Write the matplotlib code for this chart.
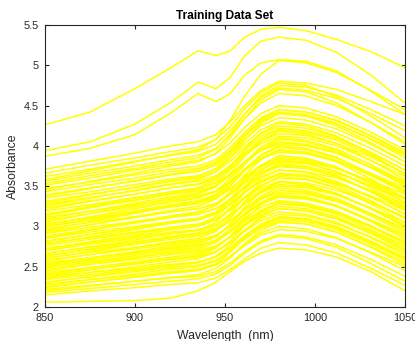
import matplotlib
matplotlib.use("Agg")
import matplotlib.pyplot as plt
from matplotlib.ticker import FormatStrFormatter

wavelengths = [850, 875, 900, 920, 935, 945, 953, 961, 970, 980, 995, 1012, 1031, 1050]

high_curves = [
    [4.26, 4.42, 4.71, 4.97, 5.18, 5.12, 5.18, 5.35, 5.45, 5.47, 5.43, 5.32, 5.17, 4.97],
    [3.94, 4.05, 4.27, 4.54, 4.79, 4.71, 4.85, 5.12, 5.30, 5.35, 5.31, 5.16, 4.88, 4.53],
    [3.87, 3.97, 4.14, 4.41, 4.65, 4.55, 4.65, 4.88, 5.03, 5.07, 5.05, 4.93, 4.68, 4.39],
    [3.58, 3.69, 3.80, 3.89, 3.95, 4.08, 4.32, 4.62, 4.89, 5.06, 5.03, 4.91, 4.69, 4.45],
]

upper_curves = [
    [3.31, 3.40, 3.48, 3.56, 3.60, 3.68, 3.81, 3.99, 4.15, 4.25, 4.22, 4.11, 3.92, 3.70],
    [3.35, 3.43, 3.52, 3.59, 3.63, 3.71, 3.85, 4.03, 4.20, 4.30, 4.27, 4.16, 3.97, 3.75],
    [3.39, 3.48, 3.56, 3.64, 3.68, 3.76, 3.90, 4.08, 4.25, 4.35, 4.32, 4.21, 4.02, 3.80],
    [3.43, 3.52, 3.60, 3.68, 3.72, 3.80, 3.95, 4.14, 4.32, 4.42, 4.39, 4.28, 4.08, 3.85],
    [3.47, 3.55, 3.64, 3.71, 3.75, 3.83, 3.98, 4.17, 4.35, 4.45, 4.42, 4.31, 4.12, 3.90],
    [3.51, 3.60, 3.70, 3.77, 3.82, 3.90, 4.04, 4.23, 4.40, 4.50, 4.47, 4.36, 4.17, 3.95],
    [3.56, 3.66, 3.75, 3.83, 3.88, 3.97, 4.13, 4.34, 4.53, 4.65, 4.62, 4.50, 4.29, 4.05],
    [3.62, 3.71, 3.81, 3.88, 3.93, 4.02, 4.19, 4.40, 4.60, 4.72, 4.69, 4.59, 4.40, 4.19],
    [3.66, 3.76, 3.85, 3.93, 3.98, 4.08, 4.24, 4.46, 4.66, 4.78, 4.75, 4.61, 4.37, 4.10],
    [3.71, 3.81, 3.91, 4.00, 4.05, 4.14, 4.30, 4.50, 4.69, 4.80, 4.78, 4.70, 4.55, 4.39],
    [3.45, 3.56, 3.66, 3.75, 3.80, 3.91, 4.10, 4.34, 4.57, 4.70, 4.67, 4.53, 4.29, 4.02],
    [3.53, 3.63, 3.72, 3.80, 3.85, 3.96, 4.15, 4.39, 4.62, 4.75, 4.73, 4.63, 4.45, 4.25],
    [3.25, 3.35, 3.45, 3.53, 3.58, 3.68, 3.85, 4.07, 4.28, 4.40, 4.37, 4.25, 4.04, 3.80],
    [3.15, 3.25, 3.35, 3.43, 3.48, 3.58, 3.74, 3.96, 4.16, 4.28, 4.25, 4.12, 3.90, 3.64],
    [3.29, 3.39, 3.49, 3.57, 3.62, 3.72, 3.89, 4.12, 4.33, 4.45, 4.42, 4.32, 4.13, 3.92],
    [3.37, 3.47, 3.57, 3.65, 3.70, 3.78, 3.93, 4.12, 4.30, 4.40, 4.37, 4.27, 4.09, 3.88],
]

mid_curves = [
    [2.76, 2.84, 2.92, 2.98, 3.02, 3.09, 3.21, 3.37, 3.51, 3.60, 3.58, 3.48, 3.30, 3.10],
    [2.79, 2.86, 2.93, 2.99, 3.03, 3.09, 3.20, 3.35, 3.48, 3.56, 3.54, 3.45, 3.30, 3.12],
    [2.82, 2.90, 2.98, 3.04, 3.08, 3.15, 3.27, 3.43, 3.57, 3.66, 3.64, 3.54, 3.36, 3.16],
    [2.85, 2.93, 3.00, 3.06, 3.10, 3.16, 3.28, 3.42, 3.56, 3.64, 3.62, 3.53, 3.38, 3.20],
    [2.88, 2.96, 3.04, 3.11, 3.15, 3.22, 3.34, 3.50, 3.65, 3.74, 3.72, 3.62, 3.44, 3.24],
    [2.91, 2.99, 3.06, 3.12, 3.16, 3.22, 3.34, 3.48, 3.62, 3.70, 3.68, 3.60, 3.45, 3.28],
    [2.94, 3.02, 3.11, 3.18, 3.22, 3.29, 3.41, 3.57, 3.71, 3.80, 3.78, 3.68, 3.50, 3.30],
    [2.97, 3.05, 3.12, 3.18, 3.22, 3.28, 3.40, 3.54, 3.68, 3.76, 3.74, 3.66, 3.51, 3.34],
    [3.00, 3.08, 3.17, 3.24, 3.28, 3.35, 3.46, 3.62, 3.76, 3.84, 3.82, 3.72, 3.55, 3.36],
    [3.03, 3.11, 3.19, 3.26, 3.30, 3.36, 3.47, 3.61, 3.74, 3.82, 3.80, 3.72, 3.57, 3.40],
    [3.07, 3.16, 3.24, 3.32, 3.36, 3.43, 3.55, 3.71, 3.85, 3.94, 3.92, 3.82, 3.64, 3.44],
    [3.11, 3.19, 3.27, 3.34, 3.38, 3.44, 3.56, 3.70, 3.84, 3.92, 3.90, 3.81, 3.66, 3.48],
    [3.15, 3.24, 3.32, 3.40, 3.44, 3.51, 3.64, 3.80, 3.95, 4.04, 4.01, 3.91, 3.73, 3.52],
    [3.19, 3.27, 3.36, 3.43, 3.47, 3.54, 3.65, 3.80, 3.94, 4.02, 4.00, 3.91, 3.74, 3.56],
    [3.23, 3.32, 3.40, 3.48, 3.52, 3.59, 3.72, 3.88, 4.03, 4.12, 4.10, 4.00, 3.82, 3.62],
    [3.27, 3.36, 3.44, 3.52, 3.56, 3.63, 3.75, 3.91, 4.06, 4.15, 4.13, 4.03, 3.86, 3.66],
    [2.85, 2.95, 3.05, 3.13, 3.18, 3.27, 3.43, 3.64, 3.83, 3.95, 3.92, 3.80, 3.59, 3.35],
    [3.05, 3.16, 3.26, 3.35, 3.40, 3.49, 3.66, 3.87, 4.06, 4.18, 4.15, 4.03, 3.82, 3.58],
    [2.95, 3.06, 3.16, 3.25, 3.30, 3.39, 3.56, 3.77, 3.96, 4.08, 4.05, 3.94, 3.73, 3.50],
    [2.70, 2.79, 2.88, 2.96, 3.00, 3.08, 3.23, 3.42, 3.60, 3.70, 3.67, 3.56, 3.37, 3.15],
    [2.66, 2.75, 2.83, 2.91, 2.95, 3.05, 3.22, 3.45, 3.66, 3.78, 3.75, 3.64, 3.43, 3.20],
    [2.72, 2.81, 2.90, 2.98, 3.02, 3.12, 3.28, 3.50, 3.70, 3.82, 3.79, 3.68, 3.48, 3.25],
    [2.78, 2.87, 2.96, 3.04, 3.08, 3.18, 3.34, 3.56, 3.76, 3.88, 3.85, 3.74, 3.53, 3.30],
    [2.81, 2.90, 2.98, 3.06, 3.10, 3.18, 3.31, 3.49, 3.65, 3.75, 3.72, 3.62, 3.43, 3.22],
    [2.87, 2.96, 3.06, 3.13, 3.18, 3.26, 3.40, 3.59, 3.76, 3.86, 3.83, 3.73, 3.55, 3.34],
    [2.92, 3.02, 3.12, 3.20, 3.25, 3.34, 3.50, 3.70, 3.89, 4.00, 3.97, 3.86, 3.65, 3.42],
    [2.99, 3.09, 3.19, 3.27, 3.32, 3.40, 3.54, 3.72, 3.88, 3.98, 3.95, 3.85, 3.66, 3.45],
    [3.02, 3.12, 3.22, 3.30, 3.35, 3.44, 3.60, 3.80, 3.99, 4.10, 4.07, 3.96, 3.77, 3.55],
    [3.09, 3.19, 3.29, 3.37, 3.42, 3.50, 3.63, 3.80, 3.96, 4.05, 4.02, 3.92, 3.74, 3.54],
    [3.13, 3.23, 3.33, 3.41, 3.46, 3.55, 3.70, 3.90, 4.09, 4.20, 4.17, 4.07, 3.88, 3.66],
    [3.21, 3.31, 3.40, 3.48, 3.53, 3.61, 3.76, 3.94, 4.12, 4.22, 4.19, 4.09, 3.91, 3.70],
    [3.00, 3.09, 3.18, 3.26, 3.30, 3.38, 3.51, 3.69, 3.85, 3.95, 3.92, 3.82, 3.63, 3.42],
]

low_curves = [
    [2.06, 2.07, 2.08, 2.11, 2.20, 2.31, 2.44, 2.57, 2.67, 2.73, 2.71, 2.62, 2.44, 2.20],
    [2.15, 2.20, 2.24, 2.28, 2.30, 2.36, 2.47, 2.60, 2.73, 2.80, 2.77, 2.67, 2.48, 2.27],
    [2.18, 2.23, 2.28, 2.32, 2.35, 2.41, 2.52, 2.67, 2.80, 2.88, 2.85, 2.74, 2.54, 2.32],
    [2.22, 2.27, 2.32, 2.36, 2.38, 2.44, 2.55, 2.69, 2.82, 2.90, 2.87, 2.77, 2.59, 2.38],
    [2.25, 2.31, 2.37, 2.42, 2.45, 2.52, 2.63, 2.78, 2.92, 3.00, 2.97, 2.86, 2.67, 2.45],
    [2.28, 2.34, 2.39, 2.44, 2.47, 2.53, 2.63, 2.76, 2.89, 2.96, 2.94, 2.85, 2.68, 2.50],
    [2.31, 2.37, 2.44, 2.49, 2.52, 2.58, 2.70, 2.84, 2.98, 3.06, 3.03, 2.93, 2.74, 2.52],
    [2.34, 2.40, 2.47, 2.52, 2.55, 2.62, 2.74, 2.89, 3.03, 3.12, 3.09, 2.99, 2.81, 2.60],
    [2.37, 2.43, 2.48, 2.53, 2.56, 2.62, 2.73, 2.87, 3.00, 3.08, 3.06, 2.96, 2.78, 2.58],
    [2.40, 2.47, 2.53, 2.59, 2.62, 2.69, 2.80, 2.96, 3.10, 3.18, 3.15, 3.05, 2.86, 2.65],
    [2.43, 2.49, 2.55, 2.60, 2.63, 2.69, 2.80, 2.94, 3.07, 3.15, 3.13, 3.03, 2.87, 2.68],
    [2.46, 2.53, 2.59, 2.65, 2.68, 2.75, 2.87, 3.02, 3.16, 3.25, 3.22, 3.12, 2.93, 2.72],
    [2.49, 2.55, 2.62, 2.67, 2.70, 2.76, 2.87, 3.01, 3.14, 3.22, 3.20, 3.10, 2.94, 2.75],
    [2.52, 2.59, 2.66, 2.72, 2.76, 2.83, 2.94, 3.10, 3.24, 3.32, 3.29, 3.19, 3.01, 2.80],
    [2.55, 2.61, 2.68, 2.73, 2.76, 2.82, 2.93, 3.07, 3.20, 3.28, 3.26, 3.17, 3.00, 2.82],
    [2.58, 2.65, 2.72, 2.78, 2.82, 2.89, 3.00, 3.16, 3.30, 3.38, 3.36, 3.26, 3.08, 2.88],
    [2.61, 2.68, 2.74, 2.80, 2.83, 2.89, 3.00, 3.15, 3.28, 3.36, 3.34, 3.25, 3.08, 2.90],
    [2.64, 2.71, 2.78, 2.84, 2.88, 2.95, 3.07, 3.22, 3.36, 3.45, 3.43, 3.33, 3.15, 2.95],
    [2.67, 2.74, 2.81, 2.87, 2.90, 2.96, 3.07, 3.21, 3.34, 3.42, 3.40, 3.31, 3.16, 2.98],
    [2.70, 2.78, 2.85, 2.91, 2.95, 3.02, 3.14, 3.29, 3.43, 3.52, 3.50, 3.40, 3.22, 3.02],
    [2.73, 2.80, 2.87, 2.93, 2.96, 3.02, 3.14, 3.28, 3.42, 3.50, 3.48, 3.39, 3.23, 3.05],
    [2.60, 2.69, 2.78, 2.86, 2.90, 2.98, 3.11, 3.29, 3.45, 3.55, 3.52, 3.41, 3.22, 3.00],
    [2.45, 2.53, 2.61, 2.68, 2.72, 2.80, 2.94, 3.13, 3.30, 3.40, 3.37, 3.26, 3.07, 2.85],
    [2.30, 2.38, 2.45, 2.51, 2.55, 2.63, 2.77, 2.95, 3.12, 3.22, 3.19, 3.09, 2.91, 2.70],
    [2.20, 2.26, 2.32, 2.37, 2.40, 2.48, 2.61, 2.79, 2.95, 3.05, 3.03, 2.93, 2.75, 2.55],
    [2.27, 2.34, 2.41, 2.47, 2.50, 2.57, 2.70, 2.86, 3.01, 3.10, 3.08, 2.98, 2.80, 2.60],
    [2.35, 2.43, 2.50, 2.56, 2.60, 2.68, 2.82, 3.01, 3.18, 3.28, 3.25, 3.15, 2.96, 2.75],
    [2.41, 2.49, 2.56, 2.62, 2.66, 2.74, 2.87, 3.04, 3.20, 3.30, 3.27, 3.17, 2.99, 2.78],
    [2.48, 2.56, 2.64, 2.70, 2.74, 2.83, 2.97, 3.17, 3.34, 3.45, 3.42, 3.32, 3.13, 2.92],
    [2.53, 2.61, 2.69, 2.76, 2.80, 2.88, 3.02, 3.21, 3.38, 3.48, 3.45, 3.35, 3.16, 2.95],
    [2.57, 2.65, 2.74, 2.81, 2.85, 2.94, 3.10, 3.31, 3.50, 3.62, 3.59, 3.48, 3.28, 3.05],
    [2.63, 2.72, 2.80, 2.88, 2.92, 3.01, 3.16, 3.36, 3.54, 3.65, 3.62, 3.51, 3.32, 3.10],
    [2.50, 2.58, 2.67, 2.74, 2.78, 2.87, 3.03, 3.24, 3.43, 3.55, 3.52, 3.41, 3.22, 3.00],
    [2.38, 2.46, 2.54, 2.60, 2.64, 2.73, 2.88, 3.08, 3.27, 3.38, 3.35, 3.25, 3.06, 2.85],
    [2.24, 2.31, 2.37, 2.43, 2.46, 2.54, 2.68, 2.86, 3.02, 3.12, 3.10, 3.00, 2.82, 2.62],
]

x_ticks = [850, 900, 950, 1000, 1050]
y_ticks = [2, 2.5, 3, 3.5, 4, 4.5, 5, 5.5]

plt.rcParams['font.family'] = ['Liberation Sans', 'DejaVu Sans']

fig = plt.figure(figsize=(4.15, 3.41), dpi=100)
ax = fig.add_axes([45 / 415, 34 / 341, 360 / 415, 282 / 341])

line_color = (1.0, 1.0, 0.0)
for group in (low_curves, mid_curves, upper_curves, high_curves):
    for curve in group:
        ax.plot(wavelengths, curve, color=line_color, linewidth=1.1,
                solid_joinstyle='round')

ax.set_xlim(850, 1050)
ax.set_ylim(2, 5.5)
ax.set_xticks(x_ticks)
ax.set_yticks(y_ticks)
ax.yaxis.set_major_formatter(FormatStrFormatter('%g'))

axis_color = '#262626'
for sp in ax.spines.values():
    sp.set_color(axis_color)
    sp.set_linewidth(0.8)
ax.tick_params(direction='in', top=True, right=True, length=3, width=0.8,
               colors=axis_color, labelsize=7.8)
ax.tick_params(axis='x', pad=4)
ax.tick_params(axis='y', pad=4.5)

ax.set_title('Training Data Set', fontsize=8.6, fontweight='bold', pad=4, color='#000000')
ax.set_xlabel('Wavelength  (nm)', fontsize=8.8, color=axis_color, labelpad=5)
ax.set_ylabel('Absorbance', fontsize=8.8, color=axis_color, labelpad=3)

fig.savefig('out.png', dpi=100)
